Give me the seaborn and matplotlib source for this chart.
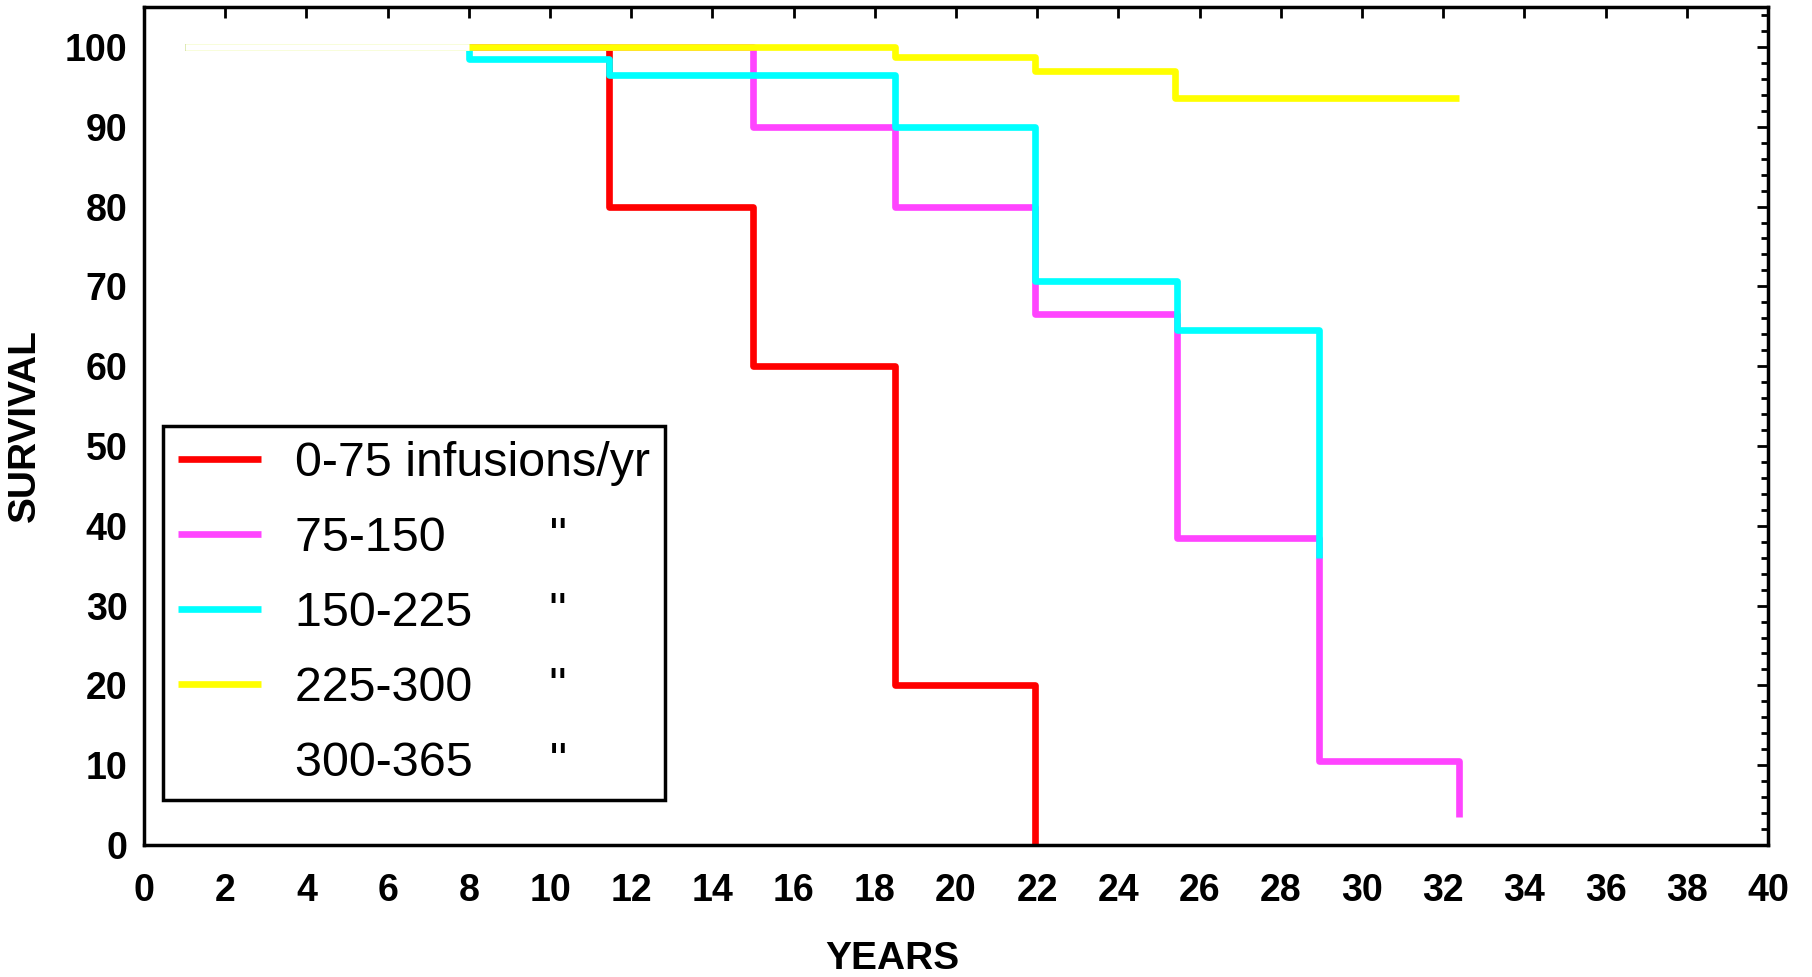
import pandas as pd
import seaborn as sns
import matplotlib.pyplot as plt
from matplotlib.ticker import MultipleLocator

# survival step data (years, % surviving)
years_0_75 = [1, 11.45, 15.0, 18.5, 21.95]
surv_0_75 = [100, 80, 60, 20, 0]

years_75_150 = [1, 15.0, 18.5, 21.95, 25.45, 28.95, 32.4]
surv_75_150 = [100, 90, 80, 66.5, 38.5, 10.5, 3.5]

years_150_225 = [1, 8.0, 11.45, 18.5, 21.95, 25.45, 28.95]
surv_150_225 = [100, 98.5, 96.5, 90, 70.7, 64.5, 36]

years_225_300 = [1, 18.5, 21.95, 25.4, 32.4]
surv_225_300 = [100, 98.7, 97.0, 93.6, 93.6]

years_300_365 = [1, 8.0]
surv_300_365 = [100, 100]

labels = ["0-75 infusions/yr", "75-150       \u2009\"", "150-225     \u2009\"",
          "225-300     \u2009\"", "300-365     \u2009\""]
colors = ["#ff0000", "#ff44ff", "#00ffff", "#ffff00", "#ffffff"]
series = [(years_0_75, surv_0_75), (years_75_150, surv_75_150),
          (years_150_225, surv_150_225), (years_225_300, surv_225_300),
          (years_300_365, surv_300_365)]

sns.set_style("white")
plt.rcParams["font.family"] = ["Liberation Sans", "DejaVu Sans"]
plt.rcParams.update({"text.color": "black", "axes.labelcolor": "black",
                     "xtick.color": "black", "ytick.color": "black"})

fig = plt.figure(figsize=(18.12, 9.77), dpi=100)
ax = fig.add_axes([0.0795, 0.1351, 0.8962, 0.8577])

for (x, y), lab, col in zip(series, labels, colors):
    df = pd.DataFrame({"YEARS": x, "SURVIVAL": y})
    sns.lineplot(data=df, x="YEARS", y="SURVIVAL", ax=ax, color=col, label=lab,
                 estimator=None, sort=False, drawstyle="steps-post",
                 linewidth=4.8, solid_joinstyle="round", solid_capstyle="butt")

ax.set_xlim(0, 40)
ax.set_ylim(0, 105)
ax.xaxis.set_major_locator(MultipleLocator(2))
ax.yaxis.set_major_locator(MultipleLocator(10))
ax.yaxis.set_minor_locator(MultipleLocator(2))
ax.tick_params(which="both", direction="in", top=True, right=True, width=2, color="black")
ax.tick_params(which="major", length=8)
ax.tick_params(which="minor", length=5)
ax.tick_params(axis="x", pad=20, labelsize=27)
ax.tick_params(axis="y", pad=12, labelsize=27)
for t in ax.get_xticklabels() + ax.get_yticklabels():
    t.set_fontweight("bold")
for s in ax.spines.values():
    s.set_linewidth(2.5)
    s.set_color("black")

ax.set_xlabel("YEARS", fontsize=28, fontweight="bold")
ax.xaxis.set_label_coords(0.4605, -0.115)
ax.set_ylabel("SURVIVAL", fontsize=28, fontweight="bold", labelpad=16)

leg = ax.legend(loc="lower left", bbox_to_anchor=(0.0117, 0.0537), fontsize=34.8,
                frameon=True, fancybox=False, edgecolor="black", framealpha=1,
                handlelength=1.72, handletextpad=0.72, labelspacing=0.62,
                borderpad=0.3, borderaxespad=0)
leg.get_frame().set_linewidth(2.5)

fig.savefig("out.png", dpi=100)
